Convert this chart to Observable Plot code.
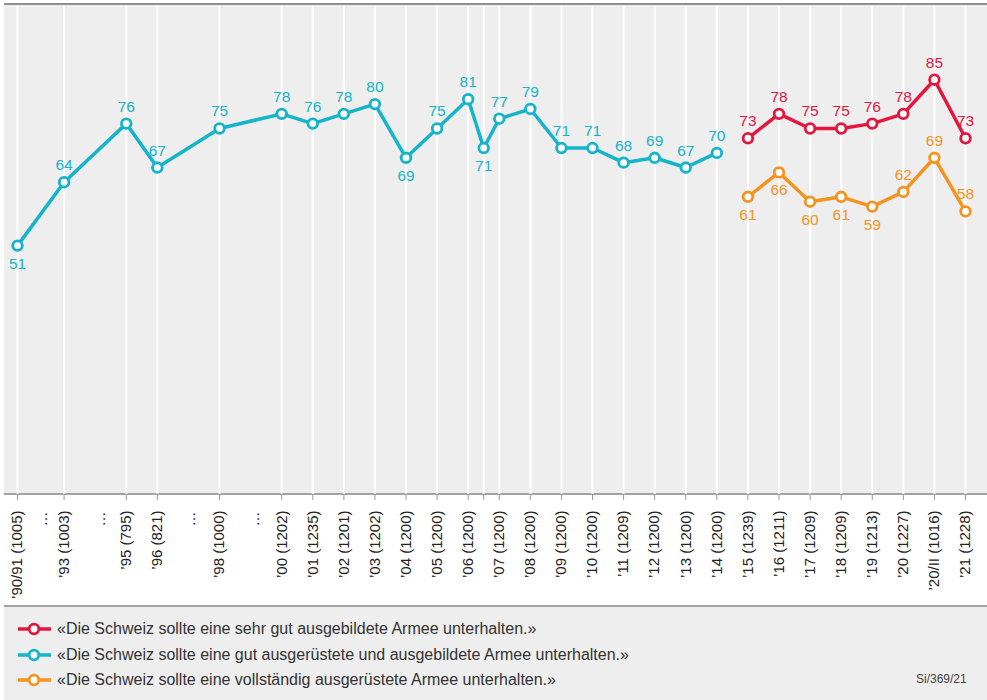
<!DOCTYPE html>
<html>
<head>
<meta charset="utf-8">
<script src="https://cdn.jsdelivr.net/npm/d3@7"></script>
<script src="https://cdn.jsdelivr.net/npm/@observablehq/plot@0.6"></script>
<style>
  html, body { margin: 0; padding: 0; background: #ffffff; }
  body { font-family: "Liberation Sans", Arial, Helvetica, sans-serif; }
  #wrap { position: relative; width: 987px; height: 700px; overflow: hidden; }
  .abs { position: absolute; }
  #topline { left: 4px; top: 3px; width: 983px; height: 2px; background: #8f8f8f; }
  #plotbg { left: 4px; top: 5px; width: 983px; height: 489px; background: #eeeeee; }
  #axisline { left: 4px; top: 493px; width: 983px; height: 2px; background: #a3a3a3; }
  #botline { left: 4px; top: 605px; width: 983px; height: 2px; background: #a3a3a3; }
  #legend { left: 4px; top: 607px; width: 983px; height: 93px; background: #eeeeee; }
  #chart { left: 0; top: 0; }
  .row { position: absolute; left: 16px; height: 20px; display: flex; align-items: center; font-size: 16px; color: #333; }
  .row svg { margin-right: 5px; }
  #code { position: absolute; left: 916px; top: 672px; font-size: 12px; color: #444; }
</style>
</head>
<body>
<div id="wrap">
  <div id="topline" class="abs"></div>
  <div id="plotbg" class="abs"></div>
  <div id="axisline" class="abs"></div>
  <div id="botline" class="abs"></div>
  <div id="legend" class="abs"></div>
  <div id="chart" class="abs"></div>
  <div id="legendRows"></div>
  <div id="code">Si/369/21</div>
</div>
<script>
// Surveys (year label), sample size and their slot on the time axis
const surveys = ["’90/91","’93","’95","’96","’98","’00","’01","’02","’03","’04","’05","’06","’06/II","’07","’08","’09","’10","’11","’12","’13","’14","’15","’16","’17","’18","’19","’20","’20/II","’21"];
const sampleSizes = [1005,1003,795,821,1000,1202,1235,1201,1202,1200,1200,1200,null,1200,1200,1200,1200,1209,1200,1200,1200,1239,1211,1209,1209,1213,1227,1016,1228];
const slots = [0,1.5,3.5,4.5,6.5,8.5,9.5,10.5,11.5,12.5,13.5,14.5,15,15.5,16.5,17.5,18.5,19.5,20.5,21.5,22.5,23.5,24.5,25.5,26.5,27.5,28.5,29.5,30.5];
const gapSlots = [0.8, 2.65, 5.55, 7.6];

const seriesNames = [
  "«Die Schweiz sollte eine sehr gut ausgebildete Armee unterhalten.»",
  "«Die Schweiz sollte eine gut ausgerüstete und ausgebildete Armee unterhalten.»",
  "«Die Schweiz sollte eine vollständig ausgerüstete Armee unterhalten.»"
];
const seriesColors = ["#e3173e", "#14b4ca", "#f5931f"];

// teal: surveys '90/91 … '14 ; red & orange: '15 … '21
const tealValues = [51,64,76,67,75,78,76,78,80,69,75,81,71,77,79,71,71,68,69,67,70];
const redValues = [73,78,75,75,76,78,85,73];
const orangeValues = [61,66,60,61,59,62,69,58];

// which value labels sit below their point
const tealBelow = ["’90/91","’04","’06/II"];
const redBelow = [];
const orangeBelow = ["’15","’16","’17","’18","’19"];

const rows = [];
tealValues.forEach((v, i) => rows.push({series: seriesNames[1], slot: slots[i], value: v, below: tealBelow.includes(surveys[i])}));
redValues.forEach((v, i) => rows.push({series: seriesNames[0], slot: slots[21 + i], value: v, below: redBelow.includes(surveys[21 + i])}));
orangeValues.forEach((v, i) => rows.push({series: seriesNames[2], slot: slots[21 + i], value: v, below: orangeBelow.includes(surveys[21 + i])}));

const labelBySlot = new Map(slots.map((s, i) => [s, sampleSizes[i] == null ? "" : `${surveys[i]} (${sampleSizes[i]})`]));

const chart = Plot.plot({
  width: 987,
  height: 606,
  marginTop: 6,
  marginBottom: 112,
  marginLeft: 17,
  marginRight: 22,
  x: {domain: [0, 30.5], axis: null},
  y: {domain: [0, 100], axis: null},
  color: {domain: seriesNames, range: seriesColors},
  style: {background: "transparent", fontFamily: "'Liberation Sans', Arial, Helvetica, sans-serif", overflow: "visible"},
  marks: [
    Plot.ruleX(slots, {stroke: "white", strokeWidth: 2}),
    Plot.axisX({ticks: slots, tickFormat: d => labelBySlot.get(d), label: null, tickRotate: -90, tickSize: 6, tickPadding: 10, fontSize: 15, stroke: "#999", fill: "#222"}),
    Plot.axisX({ticks: gapSlots, tickFormat: () => "…", label: null, tickRotate: -90, tickSize: 0, tickPadding: 17, fontSize: 15, fill: "#222"}),
    Plot.line(rows, {x: "slot", y: "value", z: "series", stroke: "series", strokeWidth: 3.5, strokeLinejoin: "miter"}),
    Plot.dot(rows, {x: "slot", y: "value", stroke: "series", fill: "white", r: 4.8, strokeWidth: 2.8}),
    Plot.text(rows.filter(d => !d.below), {x: "slot", y: "value", text: d => String(d.value), fill: "series", dy: -17, fontSize: 15.5}),
    Plot.text(rows.filter(d => d.below), {x: "slot", y: "value", text: d => String(d.value), fill: "series", dy: 18, fontSize: 15.5})
  ]
});
document.getElementById("chart").appendChild(chart);

// legend
const legendRows = document.getElementById("legendRows");
seriesNames.forEach((name, i) => {
  const row = document.createElement("div");
  row.className = "row";
  row.style.top = (619 + i * 25.5) + "px";
  const c = seriesColors[i];
  row.innerHTML = `<svg width="36" height="14"><line x1="2" y1="7" x2="35" y2="7" stroke="${c}" stroke-width="3.5"/><circle cx="18" cy="7" r="4.8" fill="white" stroke="${c}" stroke-width="2.8"/></svg><span>${name}</span>`;
  legendRows.appendChild(row);
});
</script>
</body>
</html>
